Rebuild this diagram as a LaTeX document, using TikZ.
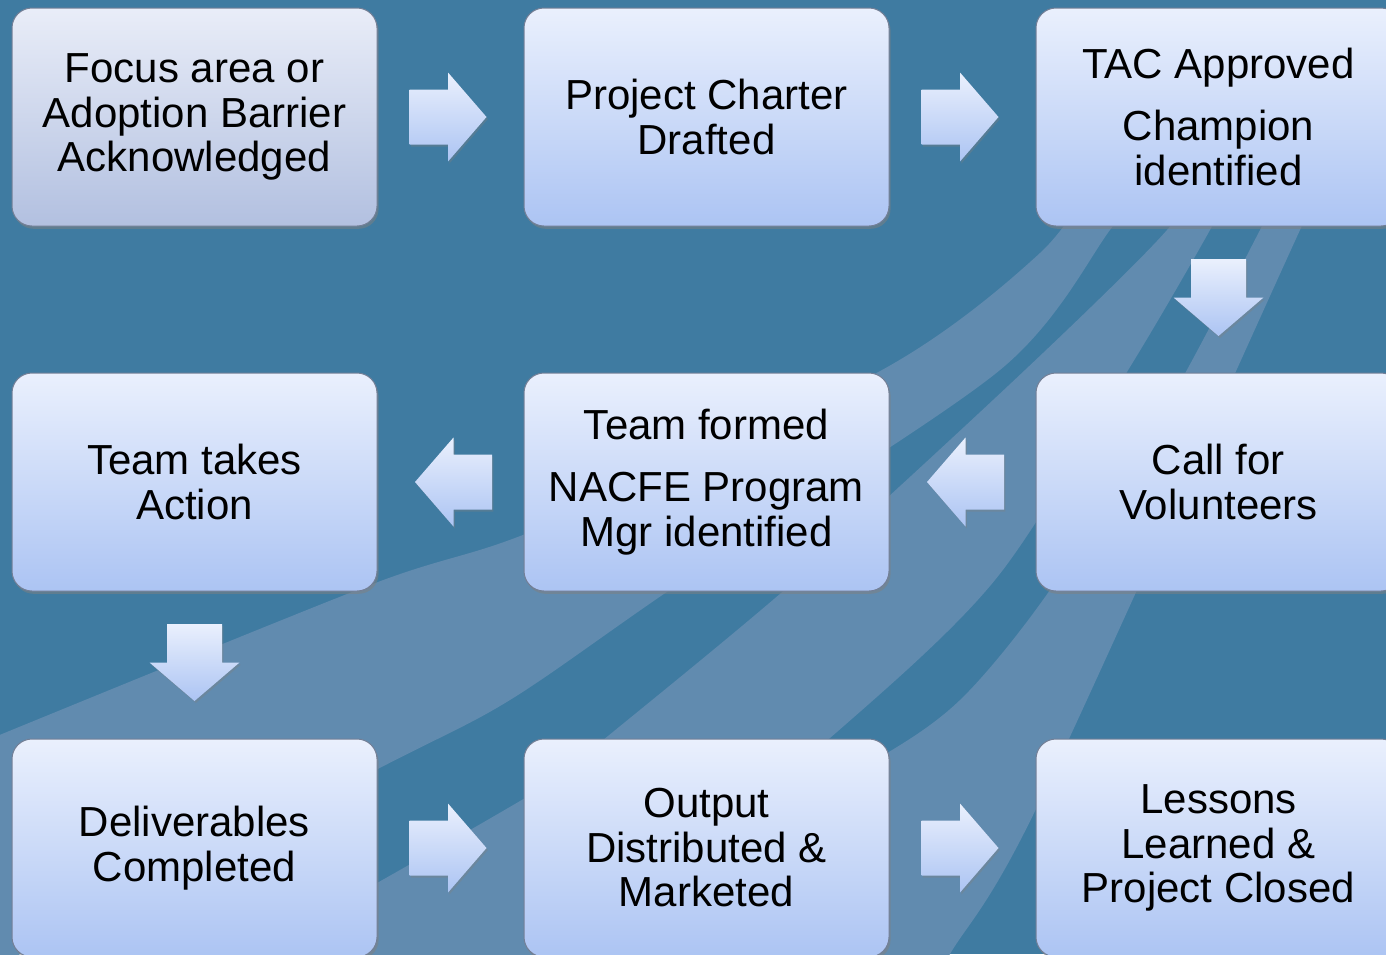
\documentclass[tikz,border=0pt]{standalone}
\usepackage{fontspec}
\setmainfont{Liberation Sans}
\usetikzlibrary{calc,shadows}
\definecolor{bgblue}{RGB}{63,123,161}
\definecolor{bandblue}{RGB}{97,139,175}
\definecolor{boxtop}{RGB}{234,240,253}
\definecolor{boxbot}{RGB}{172,196,243}
\definecolor{firsttop}{RGB}{233,237,248}
\definecolor{firstbot}{RGB}{178,192,224}
\definecolor{boxline}{RGB}{115,127,150}
\tikzset{
  stepbox/.style={rounded corners=10pt, top color=boxtop, bottom color=boxbot,
    draw=boxline, line width=0.5pt, minimum width=182.5pt, minimum height=109pt,
    align=center, inner sep=0pt, font=\fontsize{21}{22.25}\selectfont,
    drop shadow={shadow xshift=0.8pt, shadow yshift=-1.4pt, opacity=0.5}},
  firstbox/.style={stepbox, top color=firsttop, bottom color=firstbot},
  blockarrow/.style={top color=boxtop, bottom color=boxbot, draw=none,
    drop shadow={shadow xshift=0.7pt, shadow yshift=-1pt, opacity=0.35}},
  band/.style={fill=bandblue}
}
\newcommand{\rightblock}[1]{\path[blockarrow, shift={#1}] (-38.5,-27.5) -- (0,-27.5) -- (0,-44.5) -- (38.5,0) -- (0,44.5) -- (0,27.5) -- (-38.5,27.5) -- cycle;}
\newcommand{\leftblock}[1]{\path[blockarrow, shift={#1}] (38.5,-27.5) -- (0,-27.5) -- (0,-44.5) -- (-38.5,0) -- (0,44.5) -- (0,27.5) -- (38.5,27.5) -- cycle;}
\newcommand{\downblock}[1]{\path[blockarrow, shift={#1}] (-27.5,-38.5) -- (27.5,-38.5) -- (27.5,0) -- (45,0) -- (0,38.5) -- (-45,0) -- (-27.5,0) -- cycle;}
\begin{document}
\begin{tikzpicture}[x=0.5pt,y=-0.5pt]
\useasboundingbox (0,0) rectangle (1386,954);
\fill[bgblue] (0,0) rectangle (1386,954);
% background swooshes
\fill[band] plot[smooth, tension=0.5] coordinates {(-20,743) (370,585) (540,528) (882,370) (1040,253) (1100,170)}
  -- plot[smooth, tension=0.5] coordinates {(1160,170) (1113,226) (1000,370) (680,583) (510,700) (370,773) (-20,975)} -- cycle;
\fill[band] plot[smooth, tension=0.5] coordinates {(150,1010) (370,887) (550,783) (597,745) (796,580) (1025,370) (1167,230) (1200,170)}
  -- plot[smooth, tension=0.5] coordinates {(1240,170) (1210,230) (1130,367) (995,580) (822,745) (560,960) (520,1000)} -- cycle;
\fill[band] plot[smooth, tension=0.5] coordinates {(450,1010) (700,850) (870,763) (960,700) (1050,590) (1170,400) (1260,230) (1290,170)}
  -- plot[smooth, tension=0.5] coordinates {(1330,170) (1300,230) (1037,807) (950,954) (920,1010)} -- cycle;
% boxes
\node[firstbox] (b1) at (194.5,117) {Focus area or\\Adoption Barrier\\Acknowledged};
\node[stepbox] (b2) at (706.5,117) {Project Charter\\Drafted};
\node[stepbox] (b3) at (1218.5,117) {TAC Approved\\[8.75pt]Champion\\identified};
\node[stepbox] (b6) at (1218.5,482) {Call for\\Volunteers};
\node[stepbox] (b5) at (706.5,482) {Team formed\\[8.75pt]NACFE Program\\Mgr identified};
\node[stepbox] (b4) at (194.5,482) {Team takes\\Action};
\node[stepbox] (b7) at (194.5,848) {Deliverables\\Completed};
\node[stepbox] (b8) at (706.5,848) {Output\\Distributed \&\\Marketed};
\node[stepbox] (b9) at (1218.5,848) {Lessons\\Learned \&\\Project Closed};
% block arrows
\rightblock{($(b1.east)!0.5!(b2.west)+(-2.5,0)$)}
\rightblock{($(b2.east)!0.5!(b3.west)+(-2.5,0)$)}
\downblock{($(b3.south)!0.5!(b6.north)+(0,-2)$)}
\leftblock{($(b6.west)!0.5!(b5.east)+(3,0)$)}
\leftblock{($(b5.west)!0.5!(b4.east)+(3,0)$)}
\downblock{($(b4.south)!0.5!(b7.north)+(0,-2.5)$)}
\rightblock{($(b7.east)!0.5!(b8.west)+(-2.5,0)$)}
\rightblock{($(b8.east)!0.5!(b9.west)+(-2.5,0)$)}
\end{tikzpicture}
\end{document}
